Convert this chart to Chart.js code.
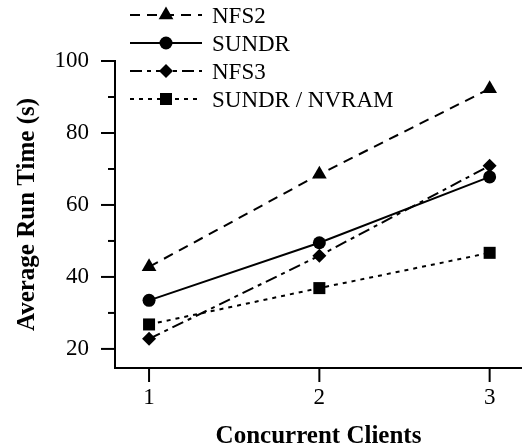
<!DOCTYPE html>
<html>
<head>
<meta charset="utf-8">
<script src="https://cdn.jsdelivr.net/npm/chart.js@4/dist/chart.umd.min.js"></script>
<style>
  body { margin: 0; background: #fff; }
  .wrap { width: 522px; height: 446px; position: relative; }
</style>
</head>
<body>
<div class="wrap"><canvas class="run-time"></canvas></div>
<script>
// data
const clients = [1, 2, 3];
const nfs2 = [42.8, 68.5, 92.3];
const sundr = [33.5, 49.5, 67.8];
const nfs3 = [22.8, 45.9, 70.9];
const sundrNvram = [26.8, 36.9, 46.7];

const xTicks = [1, 2, 3];
const yMajor = [20, 40, 60, 80, 100];
const yMinor = [30, 50, 70, 90];

const serif = 'Liberation Serif, Times New Roman, serif';

const toPoints = function (vals) {
	return clients.map((c, i) => ({ x: c, y: vals[i] }));
};

const mkSet = function (label, vals, dash, style, radius) {
	return {
		label: label,
		data: toPoints(vals),
		borderColor: '#000',
		backgroundColor: '#000',
		borderWidth: 2,
		borderDash: dash,
		pointStyle: style,
		pointRadius: radius,
		pointBorderWidth: 0,
		pointBackgroundColor: '#000',
		tension: 0,
	};
};

// own legend + tick marks (ticks with two lengths)
const extras = {
	id: 'extras',
	afterDraw(chart) {
		const ctx = chart.ctx;
		const xs = chart.scales.x;
		const ys = chart.scales.y;
		ctx.save();
		ctx.strokeStyle = '#000';
		ctx.lineWidth = 2;
		ctx.setLineDash([]);
		for (const v of xTicks) {
			const px = xs.getPixelForValue(v);
			ctx.beginPath();
			ctx.moveTo(px, xs.top);
			ctx.lineTo(px, xs.top + 14);
			ctx.stroke();
		}
		for (const v of yMajor) {
			const py = ys.getPixelForValue(v);
			ctx.beginPath();
			ctx.moveTo(ys.right, py);
			ctx.lineTo(ys.right - 14, py);
			ctx.stroke();
		}
		for (const v of yMinor) {
			const py = ys.getPixelForValue(v);
			ctx.beginPath();
			ctx.moveTo(ys.right, py);
			ctx.lineTo(ys.right - 7, py);
			ctx.stroke();
		}

		// legend
		const rows = [15, 43, 71, 99];
		chart.data.datasets.forEach((ds, i) => {
			const y = rows[i];
			ctx.strokeStyle = '#000';
			ctx.lineWidth = 2;
			ctx.setLineDash(ds.borderDash);
			ctx.beginPath();
			ctx.moveTo(130, y);
			ctx.lineTo(202, y);
			ctx.stroke();
			ctx.setLineDash([]);
			ctx.fillStyle = '#000';
			if (Chart.helpers && Chart.helpers.drawPoint) {
				Chart.helpers.drawPoint(ctx, { pointStyle: ds.pointStyle, radius: ds.pointRadius, borderWidth: 0, rotation: 0 }, 166, y);
			}
			ctx.font = '23px ' + serif;
			ctx.textBaseline = 'middle';
			ctx.textAlign = 'left';
			ctx.fillText(ds.label, 212, y + 2);
		});
		ctx.restore();
	},
};

const createChart = function () {
	const config = {
		type: 'line',
		data: {
			datasets: [
				mkSet('NFS2', nfs2, [10, 7], 'triangle', 8.5),
				mkSet('SUNDR', sundr, [], 'circle', 6.5),
				mkSet('NFS3', nfs3, [12, 5, 4, 5], 'rectRot', 7),
				mkSet('SUNDR / NVRAM', sundrNvram, [4, 5], 'rect', 8.5),
			],
		},
		options: {
			responsive: true,
			maintainAspectRatio: false,
			animation: false,
			layout: { autoPadding: false, padding: { top: 61, left: 0, right: 0, bottom: 0 } },
			plugins: {
				legend: { display: false },
				tooltip: { enabled: false },
			},
			scales: {
				x: {
					type: 'linear',
					min: 0.8,
					max: 3.19,
					afterBuildTicks: (s) => { s.ticks = xTicks.map((v) => ({ value: v })); },
					afterFit: (s) => { s.height = 78; s.paddingLeft = 0; s.paddingRight = 0; },
					grid: { display: false },
					border: { display: true, color: '#000', width: 2 },
					ticks: { color: '#000', padding: 8, autoSkip: false, maxRotation: 0, font: { family: serif, size: 23 } },
					title: {
						display: true,
						text: 'Concurrent Clients',
						color: '#000',
						font: { family: serif, size: 25, weight: 'bold', lineHeight: 1 },
						padding: { top: 0, bottom: -3 },
					},
				},
				y: {
					type: 'linear',
					min: 14.7,
					max: 100,
					afterBuildTicks: (s) => { s.ticks = yMajor.concat(yMinor).sort((a, b) => a - b).map((v) => ({ value: v })); },
					afterFit: (s) => { s.width = 115; },
					grid: { display: false },
					border: { display: true, color: '#000', width: 2 },
					ticks: {
						color: '#000',
						padding: 18,
						autoSkip: false,
						font: { family: serif, size: 23 },
						callback: (v) => (yMajor.includes(v) ? String(v) : ''),
					},
					title: {
						display: true,
						text: 'Average Run Time (s)',
						color: '#000',
						font: { family: serif, size: 25, weight: 'bold', lineHeight: 1 },
						padding: { top: 15, bottom: 0 },
					},
				},
			},
		},
		plugins: [extras],
	};
	const ctx = document.querySelector('.run-time');
	const myChart = new Chart(ctx, config);
};

document.addEventListener('DOMContentLoaded', createChart);
</script>
</body>
</html>
